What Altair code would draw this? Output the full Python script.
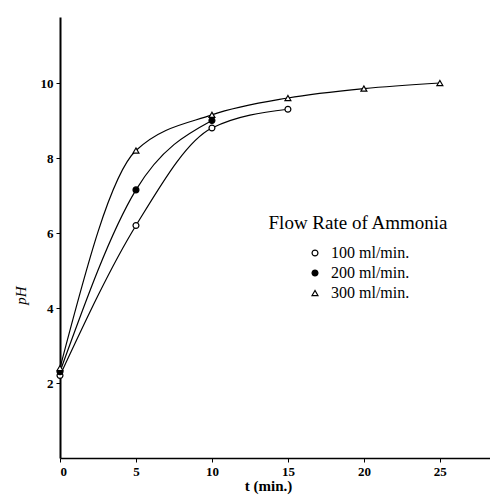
import altair as alt
import pandas as pd

# Data
t_100 = [0, 5, 10, 15]
ph_100 = [2.2, 6.2, 8.8, 9.3]
t_200 = [0, 5, 10]
ph_200 = [2.3, 7.15, 9.0]
t_300 = [0, 5, 10, 15, 20, 25]
ph_300 = [2.4, 8.2, 9.15, 9.6, 9.85, 10.0]

labels = ["100 ml/min.", "200 ml/min.", "300 ml/min."]
x_ticks = [0, 5, 10, 15, 20, 25]
y_ticks = [2, 4, 6, 8, 10]

rows = []
for lab, ts, ps in zip(labels, [t_100, t_200, t_300], [ph_100, ph_200, ph_300]):
    for t, p in zip(ts, ps):
        rows.append({"t": t, "pH": p, "rate": lab})
df = pd.DataFrame(rows)

FONT = "Liberation Serif"

x = alt.X("t:Q",
          scale=alt.Scale(domain=[0, 28.3], nice=False),
          axis=alt.Axis(values=x_ticks, title="t (min.)", grid=False,
                        titleX=208, titleY=20, titleFontSize=15, titleFontWeight="bold",
                        labelFontSize=13, labelFontWeight="bold", tickSize=4,
                        labelPadding=3))
y = alt.Y("pH:Q",
          scale=alt.Scale(domain=[0, 11.76], nice=False),
          axis=alt.Axis(values=y_ticks, title="pH", grid=False,
                        titleX=-32, titleY=278, titleFontSize=15, titleFontStyle="italic",
                        titleFontWeight="normal",
                        labelFontSize=13, labelFontWeight="bold", tickSize=4,
                        labelPadding=3))

lines = alt.Chart(df).mark_line(interpolate="monotone", color="black", strokeWidth=1.2).encode(
    x=x, y=y, detail="rate:N"
)

legend = alt.Legend(title="Flow Rate of Ammonia", orient="none", legendX=208, legendY=197,
                    titleFontSize=19, titleFontWeight="normal", labelFontSize=16,
                    titleAnchor="middle", titlePadding=12, rowPadding=4, symbolSize=35,
                    symbolStrokeColor="black", symbolStrokeWidth=1.2, labelOffset=8)

points = alt.Chart(df).mark_point(filled=True, size=35, strokeWidth=1.2, opacity=1).encode(
    x=x, y=y,
    shape=alt.Shape("rate:N", scale=alt.Scale(domain=labels, range=["circle", "circle", "triangle-up"]),
                    legend=legend),
    fill=alt.Fill("rate:N", scale=alt.Scale(domain=labels, range=["white", "black", "white"]),
                  legend=legend),
    stroke=alt.Stroke("rate:N", scale=alt.Scale(domain=labels, range=["black", "black", "black"]),
                      legend=legend),
)

chart = alt.layer(lines, points).properties(
    width=430, height=441,
    autosize=alt.AutoSizeParams(type="none"),
    padding={"left": 52, "top": 9, "right": 0, "bottom": 40},
).configure_view(stroke=None).configure_axis(
    domainColor="black", tickColor="black", labelColor="black", titleColor="black",
    labelFont=FONT, titleFont=FONT, domainWidth=1.5
).configure_axisY(domainWidth=2).configure_legend(
    labelFont=FONT, titleFont=FONT, labelColor="black", titleColor="black"
)

chart.save("out.html", embed_options={"renderer": "svg", "actions": False})
